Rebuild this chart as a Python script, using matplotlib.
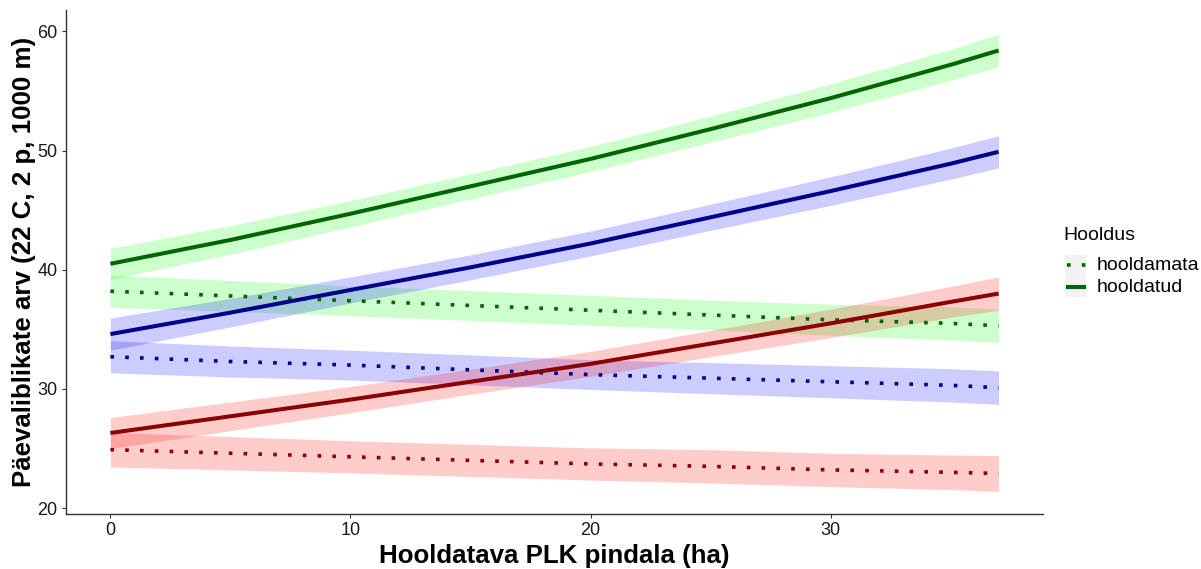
import matplotlib
matplotlib.use("Agg")
import matplotlib.pyplot as plt
from matplotlib.patches import Rectangle
from matplotlib.lines import Line2D

plt.rcParams['font.family'] = ['Liberation Sans', 'DejaVu Sans']

# Data
area = [0, 5, 10, 15, 20, 25, 30, 35, 37]

# hooldatud (solid)
green_fit = [40.5, 42.5, 44.7, 47.0, 49.3, 51.8, 54.4, 57.2, 58.4]
green_lo = [39.2, 41.3, 43.6, 45.95, 48.25, 50.7, 53.2, 55.9, 57.05]
green_hi = [41.8, 43.7, 45.8, 48.05, 50.35, 52.9, 55.6, 58.5, 59.75]

blue_fit = [34.6, 36.4, 38.3, 40.2, 42.2, 44.4, 46.6, 48.9, 49.9]
blue_lo = [33.25, 35.2, 37.2, 39.15, 41.15, 43.3, 45.4, 47.6, 48.55]
blue_hi = [35.95, 37.6, 39.4, 41.25, 43.25, 45.5, 47.8, 50.2, 51.25]

red_fit = [26.3, 27.7, 29.1, 30.6, 32.1, 33.8, 35.5, 37.3, 38.0]
red_lo = [25.0, 26.5, 28.0, 29.55, 31.05, 32.7, 34.3, 36.0, 36.6]
red_hi = [27.6, 28.9, 30.2, 31.65, 33.15, 34.9, 36.7, 38.6, 39.4]

# hooldamata (dotted)
green_u_fit = [38.2, 37.8, 37.4, 37.0, 36.6, 36.2, 35.8, 35.5, 35.3]
green_u_lo = [36.85, 36.5, 36.15, 35.75, 35.35, 34.95, 34.5, 34.1, 33.9]
green_u_hi = [39.55, 39.1, 38.65, 38.25, 37.85, 37.45, 37.1, 36.9, 36.7]

blue_u_fit = [32.7, 32.3, 32.0, 31.6, 31.2, 30.9, 30.6, 30.3, 30.1]
blue_u_lo = [31.35, 31.0, 30.75, 30.35, 29.95, 29.6, 29.25, 28.9, 28.7]
blue_u_hi = [34.05, 33.6, 33.25, 32.85, 32.45, 32.2, 31.95, 31.7, 31.5]

red_u_fit = [24.9, 24.6, 24.3, 24.0, 23.7, 23.5, 23.2, 23.0, 22.9]
red_u_lo = [23.45, 23.2, 22.95, 22.65, 22.35, 22.1, 21.8, 21.55, 21.4]
red_u_hi = [26.35, 26.0, 25.65, 25.35, 25.05, 24.9, 24.6, 24.45, 24.4]

legend_title = "Hooldus"
legend_labels = ["hooldamata", "hooldatud"]

fig = plt.figure(figsize=(12.01, 5.69), dpi=100)
ax = fig.add_axes([66/1201, 1-514/569, (1043-66)/1201, (514-10)/569])

dot_style = (0, (1.0, 3.1))
dot_lw = 2.6
series = [
    (green_u_fit, green_u_lo, green_u_hi, '#00ff00', '#006400', dot_style),
    (blue_u_fit, blue_u_lo, blue_u_hi, '#0000ff', '#00008b', dot_style),
    (red_u_fit, red_u_lo, red_u_hi, '#ff0000', '#8b0000', dot_style),
    (green_fit, green_lo, green_hi, '#00ff00', '#006400', '-'),
    (blue_fit, blue_lo, blue_hi, '#0000ff', '#00008b', '-'),
    (red_fit, red_lo, red_hi, '#ff0000', '#8b0000', '-'),
]
for fit, lo, hi, fc, lc, ls in series:
    ax.fill_between(area, lo, hi, color=fc, alpha=0.2, linewidth=0)
for fit, lo, hi, fc, lc, ls in series:
    if ls == '-':
        ax.plot(area, fit, color=lc, linewidth=2.9, linestyle='-', solid_capstyle='butt')
    else:
        ax.plot(area, fit, color=lc, linewidth=dot_lw, linestyle=ls, dash_capstyle='butt')

ax.set_xlim(-1.85, 38.85)
ax.set_ylim(19.5, 61.8)
ax.set_xticks([0, 10, 20, 30])
ax.set_yticks([20, 30, 40, 50, 60])
for s in ['top', 'right']:
    ax.spines[s].set_visible(False)
for s in ['left', 'bottom']:
    ax.spines[s].set_color('#333333')
    ax.spines[s].set_linewidth(1.0)
ax.tick_params(axis='both', length=3, width=0.8, color='#333333', labelsize=13,
               labelcolor='#1a1a1a', pad=3)
ax.set_xlabel("Hooldatava PLK pindala (ha)", fontsize=18.6, fontweight='bold', labelpad=3)
ax.set_ylabel("Päevaliblikate arv (22 C, 2 p, 1000 m)", fontsize=18.6, fontweight='bold', labelpad=1)

# Legend drawn manually in figure pixel coords
def fx(px):
    return px / 1201
def fy(py):
    return 1 - py / 569

fig.text(fx(1063), fy(236), legend_title, fontsize=14, ha='left', va='center')
fig.patches.append(Rectangle((fx(1065), fy(297)), fx(21), 42/569, transform=fig.transFigure,
                             facecolor='#f2f2f2', edgecolor='none'))
fig.lines.append(Line2D([fx(1067), fx(1086)], [fy(265), fy(265)], transform=fig.transFigure,
                        color='#006400', linewidth=dot_lw, linestyle=dot_style, dash_capstyle='butt'))
fig.lines.append(Line2D([fx(1066), fx(1086)], [fy(287), fy(287)], transform=fig.transFigure,
                        color='#006400', linewidth=2.9, solid_capstyle='butt'))
fig.text(fx(1097), fy(266), legend_labels[0], fontsize=14, ha='left', va='center')
fig.text(fx(1097), fy(287), legend_labels[1], fontsize=14, ha='left', va='center')

fig.savefig("out.png", dpi=100)
